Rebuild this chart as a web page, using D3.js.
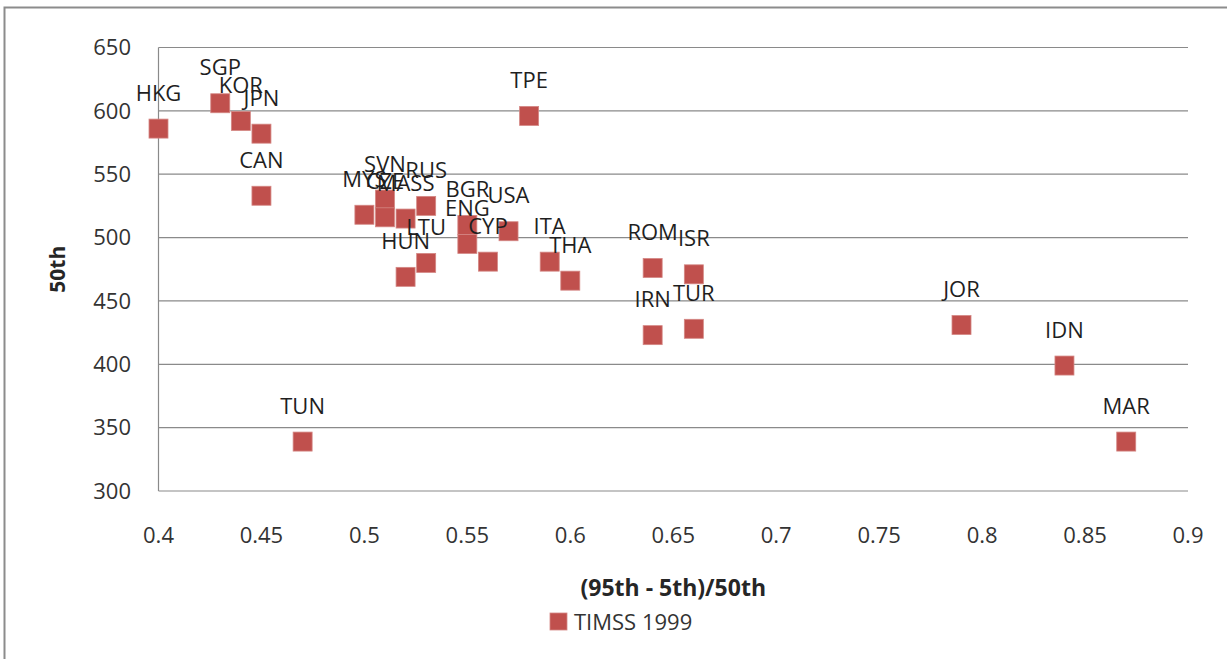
<!DOCTYPE html>
<html>
<head>
<meta charset="utf-8">
<script src="https://cdn.jsdelivr.net/npm/d3@7"></script>
<style>
    body { margin: 0; background: #fff; }
    text { font-family: "Open Sans", "Noto Sans", sans-serif; }
    .tick-label { font-size: 22px; fill: #333; }
    .point-label { font-size: 22px; fill: #1f1f1f; }
    .axis-title { font-size: 23px; font-weight: bold; fill: #262626; }
</style>
</head>
<body>
<div id="chart"></div>
<script>
// TIMSS 1999 - spread of scores vs median

var countries = ["HKG", "SGP", "KOR", "JPN", "CAN", "TPE", "MYS", "SVN", "CZE", "MASS", "RUS",
    "LTU", "HUN", "BGR", "ENG", "CYP", "USA", "ITA", "THA", "ROM", "ISR", "IRN", "TUR",
    "JOR", "IDN", "MAR", "TUN"];
var spread = [0.40, 0.43, 0.44, 0.45, 0.45, 0.58, 0.50, 0.51, 0.51, 0.52, 0.53,
    0.53, 0.52, 0.55, 0.55, 0.56, 0.57, 0.59, 0.60, 0.64, 0.66, 0.64, 0.66,
    0.79, 0.84, 0.87, 0.47];
var median = [586, 606, 592, 582, 533, 596, 518, 530, 516, 515, 525,
    480, 469, 510, 495, 481, 505, 481, 466, 476, 471, 423, 428,
    431, 399, 339, 339];

var xTicks = [0.4, 0.45, 0.5, 0.55, 0.6, 0.65, 0.7, 0.75, 0.8, 0.85, 0.9];
var yTicks = [300, 350, 400, 450, 500, 550, 600, 650];

var width = 1227, height = 659;
var plot = { left: 158.5, right: 1188, top: 47.5, bottom: 491 };

var svg = d3.select("#chart").append("svg")
    .attr("width", width)
    .attr("height", height);

// outer chart border (only top and left show in the frame)
svg.append("path")
    .attr("d", "M4.5,659 L4.5,7.5 L1227,7.5")
    .attr("fill", "none")
    .attr("stroke", "#8c8c8c")
    .attr("stroke-width", 2);

var x = d3.scaleLinear().domain([0.4, 0.9]).range([plot.left, plot.right]);
var y = d3.scaleLinear().domain([300, 650]).range([plot.bottom, plot.top]);

// horizontal gridlines
svg.selectAll(".grid")
    .data(yTicks)
    .enter().append("line")
    .attr("class", "grid")
    .attr("x1", plot.left).attr("x2", plot.right)
    .attr("y1", function(d) { return y(d); })
    .attr("y2", function(d) { return y(d); })
    .attr("stroke", "#8a8a8a")
    .attr("stroke-width", 1.2);

// y axis line
svg.append("line")
    .attr("x1", plot.left).attr("x2", plot.left)
    .attr("y1", plot.top).attr("y2", plot.bottom)
    .attr("stroke", "#8a8a8a")
    .attr("stroke-width", 1.2);

// tick labels
svg.selectAll(".ylab")
    .data(yTicks)
    .enter().append("text")
    .attr("class", "tick-label")
    .attr("x", 131)
    .attr("y", function(d) { return y(d); })
    .attr("dy", "0.35em")
    .attr("text-anchor", "end")
    .text(function(d) { return d; });

svg.selectAll(".xlab")
    .data(xTicks)
    .enter().append("text")
    .attr("class", "tick-label")
    .attr("x", function(d) { return x(d); })
    .attr("y", 543)
    .attr("text-anchor", "middle")
    .text(function(d) { return d3.format("")(d); });

// axis titles
svg.append("text")
    .attr("class", "axis-title")
    .attr("transform", "translate(65," + ((plot.top + plot.bottom) / 2) + ") rotate(-90)")
    .attr("text-anchor", "middle")
    .style("font-size", "21px")
    .text("50th");

svg.append("text")
    .attr("class", "axis-title")
    .attr("x", (plot.left + plot.right) / 2)
    .attr("y", 596)
    .attr("text-anchor", "middle")
    .text("(95th - 5th)/50th");

// points
var idx = d3.range(countries.length);
var size = 19;

svg.selectAll(".pt")
    .data(idx)
    .enter().append("rect")
    .attr("class", "pt")
    .attr("x", function(i) { return x(spread[i]) - size / 2; })
    .attr("y", function(i) { return y(median[i]) - size / 2; })
    .attr("width", size)
    .attr("height", size)
    .attr("fill", "#c0504d")
    .attr("stroke", "#d48784")
    .attr("stroke-width", 0.8);

// point labels, above each marker
svg.selectAll(".point-label")
    .data(idx)
    .enter().append("text")
    .attr("class", "point-label")
    .attr("x", function(i) { return x(spread[i]); })
    .attr("y", function(i) { return y(median[i]) - 28; })
    .attr("text-anchor", "middle")
    .text(function(i) { return countries[i]; });

// legend
svg.append("rect")
    .attr("x", 550).attr("y", 613)
    .attr("width", 17).attr("height", 17)
    .attr("fill", "#c0504d")
    .attr("stroke", "#d48784")
    .attr("stroke-width", 0.8);

svg.append("text")
    .attr("class", "tick-label")
    .attr("x", 574)
    .attr("y", 630)
    .text("TIMSS 1999");
</script>
</body>
</html>
